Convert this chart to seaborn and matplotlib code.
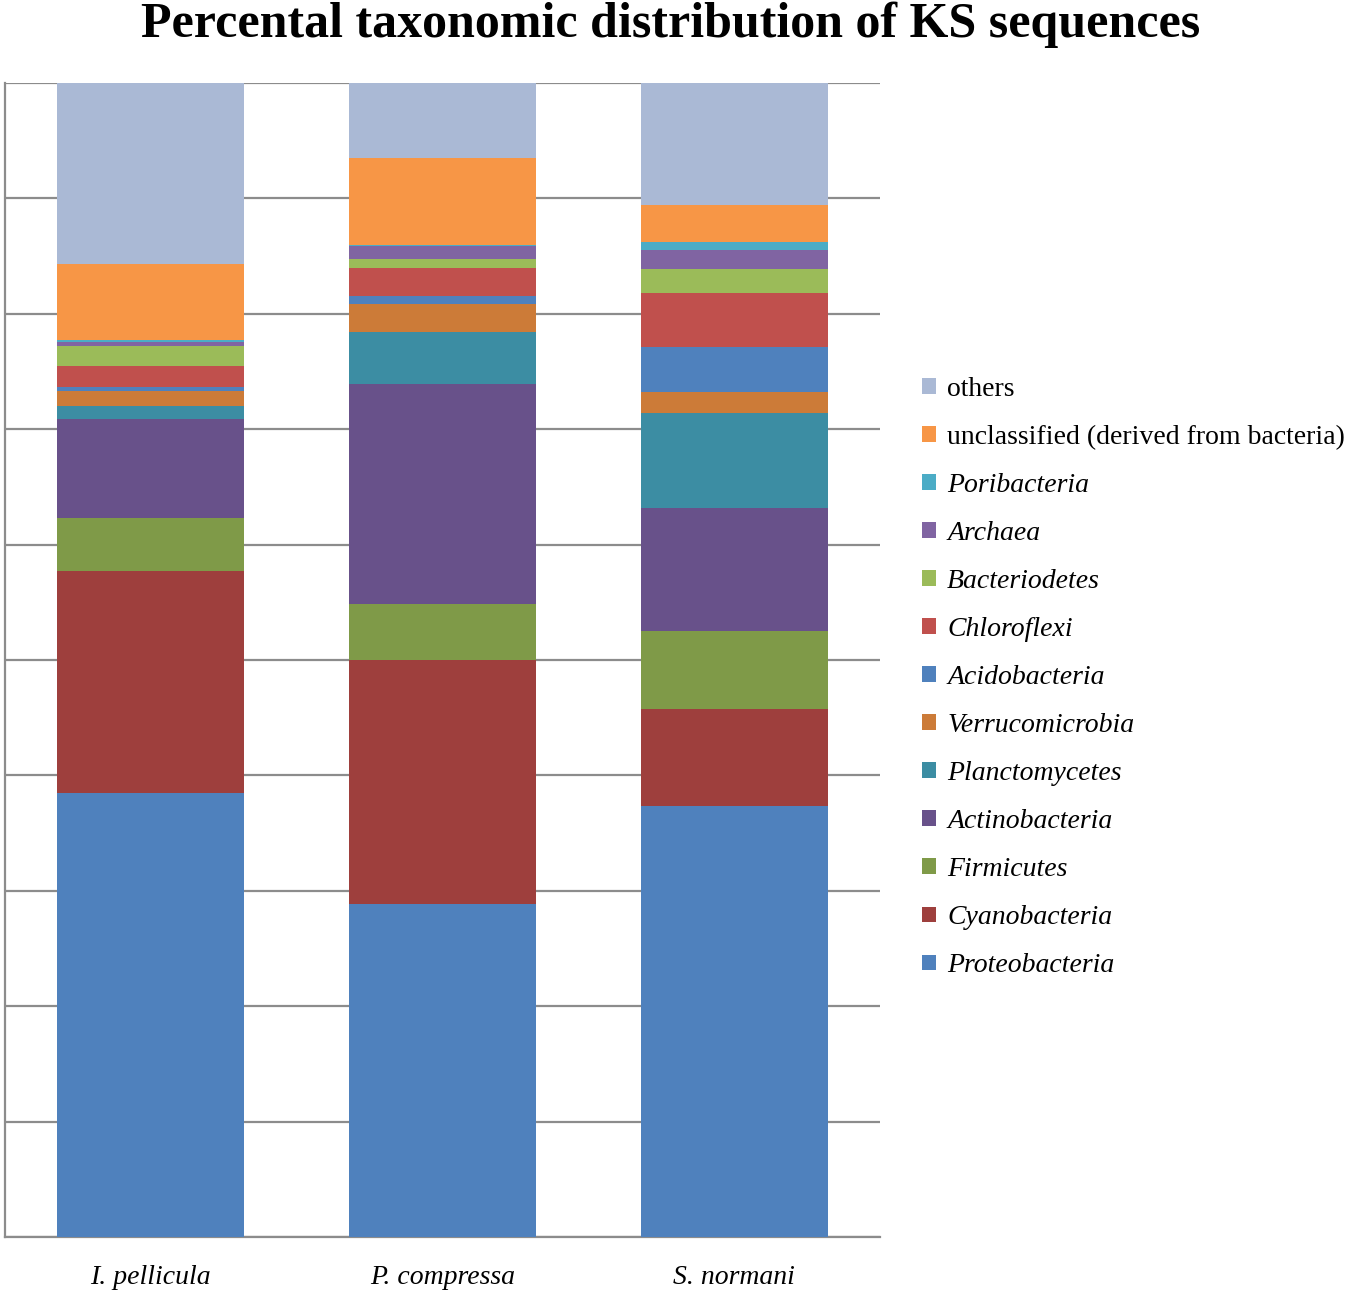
import numpy as np
import pandas as pd
import seaborn as sns
import matplotlib.pyplot as plt
from matplotlib.patches import Patch

# values (% of KS sequences, bottom -> top of each bar)
samples = ['I. pellicula', 'P. compressa', 'S. normani']
taxa = ['Proteobacteria', 'Cyanobacteria', 'Firmicutes', 'Actinobacteria',
        'Planctomycetes', 'Verrucomicrobia', 'Acidobacteria', 'Chloroflexi',
        'Bacteriodetes', 'Archaea', 'Poribacteria',
        'unclassified (derived from bacteria)', 'others']
i_pellicula = [38.5, 19.2, 4.6, 8.6, 1.1, 1.3, 0.35, 1.85, 1.67, 0.37, 0.15, 6.6, 15.7]
p_compressa = [28.8, 21.1, 4.9, 19.0, 4.5, 2.4, 0.7, 2.4, 0.8, 1.1, 0.15, 7.5, 6.5]
s_normani = [37.3, 8.4, 6.75, 10.65, 8.2, 1.85, 3.85, 4.75, 2.0, 1.65, 0.7, 3.25, 10.55]
colors = ['#4F81BD', '#9E3F3D', '#7F9A48', '#68518A', '#3C8DA3', '#CC7B38',
          '#4F81BD', '#C0504D', '#9BBB59', '#8064A2', '#4BACC6', '#F79646', '#AAB9D5']
plain_labels = ['others', 'unclassified (derived from bacteria)']

df = pd.DataFrame({samples[0]: i_pellicula, samples[1]: p_compressa,
                   samples[2]: s_normani}, index=taxa)
# 100% stacked, like the excel original
df = df.div(df.sum(axis=0), axis=1) * 100
cum = df.cumsum(axis=0)

sns.set_style('white')
plt.rcParams['font.family'] = ['Liberation Serif', 'DejaVu Serif']
plt.rcParams['text.color'] = 'black'
plt.rcParams['xtick.color'] = 'black'

fig = plt.figure(figsize=(13.5, 12.91), dpi=100)
ax = fig.add_axes([0.0037, 0.0418, 0.6482, 0.894])

# draw the cumulative totals from the top segment down so smaller ones sit on top
for taxon, col in zip(taxa[::-1], colors[::-1]):
    sns.barplot(x=samples, y=cum.loc[taxon].values, color=col, saturation=1,
                width=0.64, linewidth=0, ax=ax, zorder=3)

ax.set_ylim(0, 100)
ax.set_xlim(-0.5, 2.5)
ax.set_yticks(np.arange(0, 101, 10))
ax.set_yticklabels([])
ax.tick_params(axis='y', length=0)
ax.tick_params(axis='x', length=0, pad=20)
ax.yaxis.grid(True, color='#8c8c8c', linewidth=1.6, zorder=0)
ax.set_axisbelow(True)
for lab in ax.get_xticklabels():
    lab.set_fontstyle('italic')
    lab.set_fontsize(20)
for side in ['top', 'right']:
    ax.spines[side].set_visible(False)
for side in ['left', 'bottom']:
    ax.spines[side].set_color('#8c8c8c')
    ax.spines[side].set_linewidth(1.6)

fig.suptitle('Percental taxonomic distribution of KS sequences', x=0.497, y=0.999,
             va='top', fontsize=36, fontweight='bold')

handles = [Patch(facecolor=c, edgecolor='none') for c in colors[::-1]]
leg = fig.legend(handles, taxa[::-1], loc='center left', bbox_to_anchor=(0.683, 0.4752),
                 frameon=False, fontsize=20, handlelength=0.5, handleheight=0.5,
                 handletextpad=0.4, labelspacing=0.83, borderpad=0, borderaxespad=0)
for txt in leg.get_texts():
    if txt.get_text() not in plain_labels:
        txt.set_fontstyle('italic')

plt.savefig('out.png', dpi=100)
